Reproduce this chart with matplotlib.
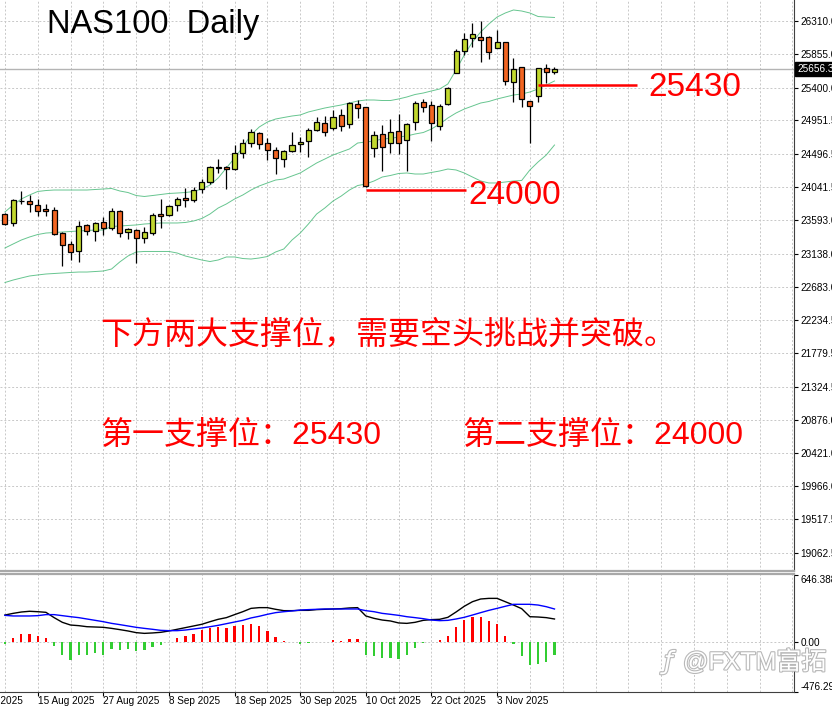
# NAS100 daily candles with bollinger bands and macd panel (MT4 style screenshot)
import numpy as np
import matplotlib
matplotlib.use('Agg')
import matplotlib.pyplot as plt
import matplotlib.patheffects as pe
from matplotlib.transforms import blended_transform_factory

# --- data, one value per daily bar (11 Aug 2025 .. 12 Nov 2025) ---
opens = [23673, 23559, 23848, 23850, 23800, 23745, 23732, 23418, 23269, 23169,
         23528, 23446, 23572, 23483, 23718, 23428, 23459, 23346, 23423, 23673,
         23660, 23796, 23899, 23868, 24022, 24117, 24310, 24313, 24286, 24504,
         24648, 24776, 24640, 24549, 24430, 24535, 24635, 24667, 24821, 24913,
         24845, 25022, 24899, 25180, 25135, 24572, 24763, 24640, 24804, 24681,
         24934, 25199, 25162, 24876, 25171, 25602, 25893, 26079, 26088, 26088,
         25942, 26016, 25479, 25679, 25212, 25285, 25662, 25615]
highs = [23691, 23877, 23991, 23936, 23877, 23809, 23768, 23428, 23314, 23586,
         23537, 23572, 23640, 23759, 23732, 23483, 23469, 23504, 23695, 23877,
         23800, 23913, 24027, 24049, 24150, 24331, 24430, 24335, 24613, 24695,
         24831, 24790, 24708, 24594, 24549, 24794, 24722, 24853, 25003, 25012,
         25094, 25107, 25199, 25230, 25139, 24808, 24890, 24971, 25039, 24913,
         25220, 25244, 25216, 25171, 25411, 25921, 26138, 26283, 26306, 26102,
         26183, 26024, 25798, 25684, 25220, 25670, 25720, 25675]
lows = [23528, 23514, 23814, 23709, 23650, 23650, 23391, 22973, 23055, 23019,
        23391, 23314, 23391, 23459, 23360, 23333, 23006, 23278, 23391, 23483,
        23650, 23718, 23777, 23837, 23967, 24086, 24232, 24018, 24277, 24436,
        24594, 24559, 24413, 24222, 24322, 24526, 24526, 24450, 24808, 24744,
        24821, 24812, 24853, 24989, 24049, 24458, 24267, 24512, 24495, 24267,
        24821, 25071, 24676, 24821, 25162, 25594, 25843, 25948, 25752, 25784,
        25934, 25434, 25207, 25131, 24640, 25207, 25457, 25584]
closes = [23537, 23864, 23854, 23809, 23718, 23718, 23401, 23259, 23160, 23514,
          23446, 23559, 23491, 23718, 23414, 23469, 23346, 23428, 23664, 23650,
          23786, 23877, 23864, 24004, 24117, 24322, 24316, 24286, 24504, 24640,
          24790, 24627, 24549, 24436, 24535, 24617, 24654, 24821, 24926, 24798,
          25003, 24880, 25185, 25117, 24059, 24753, 24594, 24790, 24648, 24899,
          25193, 25139, 24913, 25148, 25398, 25901, 26065, 26125, 26047, 25888,
          26020, 25493, 25652, 25240, 25152, 25662, 25607, 25656]

bb_upper = [23705, 23800, 23882, 23936, 23984, 23997, 24004, 24004, 24004, 24004,
            24004, 24011, 24018, 24025, 23991, 23970, 23929, 23916, 23929, 23943,
            23957, 23963, 23970, 23984, 24018, 24072, 24168, 24304, 24440, 24590,
            24753, 24862, 24930, 24971, 24992, 25012, 25026, 25067, 25094, 25121,
            25142, 25162, 25189, 25216, 25230, 25230, 25223, 25223, 25244, 25271,
            25305, 25325, 25353, 25380, 25448, 25639, 25843, 26020, 26156, 26265,
            26360, 26415, 26456, 26442, 26415, 26367, 26360, 26354]
bb_mid = [23214, 23269, 23323, 23364, 23398, 23418, 23425, 23432, 23439, 23446,
          23453, 23459, 23459, 23507, 23514, 23521, 23528, 23541, 23548, 23555,
          23555, 23555, 23562, 23582, 23616, 23677, 23759, 23814, 23882, 23936,
          24004, 24059, 24100, 24140, 24154, 24195, 24236, 24304, 24372, 24426,
          24481, 24522, 24563, 24644, 24658, 24672, 24699, 24706, 24726, 24740,
          24767, 24787, 24835, 24903, 24985, 25053, 25107, 25148, 25189, 25210,
          25244, 25271, 25298, 25312, 25339, 25380, 25434, 25489]
bb_lower = [22744, 22778, 22806, 22833, 22847, 22860, 22867, 22874, 22881, 22887,
            22887, 22894, 22901, 22928, 23024, 23105, 23160, 23167, 23167, 23167,
            23167, 23146, 23105, 23078, 23051, 23030, 23051, 23092, 23092, 23071,
            23064, 23078, 23098, 23160, 23201, 23323, 23418, 23541, 23677, 23759,
            23854, 23922, 24004, 24065, 24086, 24127, 24181, 24202, 24229, 24236,
            24222, 24222, 24243, 24263, 24290, 24277, 24236, 24181, 24127, 24100,
            24100, 24113, 24127, 24134, 24277, 24386, 24481, 24617]

macd_main = [262, 278, 291, 298, 294, 288, 237, 192, 166, 160,
             150, 147, 144, 134, 122, 109, 93, 86, 90, 96,
             109, 125, 141, 157, 173, 198, 221, 237, 266, 294,
             326, 333, 333, 317, 304, 304, 307, 307, 314, 317,
             320, 323, 330, 333, 253, 230, 214, 205, 186, 182,
             192, 211, 218, 221, 240, 291, 346, 390, 416, 422,
             422, 390, 358, 323, 246, 243, 237, 224]
macd_signal = [259, 253, 253, 253, 256, 266, 266, 256, 246, 237,
               224, 211, 198, 182, 170, 157, 144, 134, 125, 115,
               112, 112, 118, 128, 138, 150, 163, 179, 195, 211,
               234, 250, 269, 285, 294, 301, 310, 314, 317, 320,
               320, 320, 320, 320, 304, 294, 278, 269, 259, 246,
               237, 227, 214, 208, 211, 224, 240, 262, 285, 307,
               326, 346, 365, 365, 365, 358, 342, 320]
macd_hist = [-19, 45, 80, 83, 64, 45, -32, -120, -170, -125,
             -125, -100, -125, -67, -74, -61, -80, -77, -48, -26,
             6, 45, 64, 83, 118, 141, 150, 141, 157, 166,
             176, 157, 112, 54, 10, 3, -16, -6, 3, 3,
             19, 13, 32, 32, -122, -128, -154, -147, -160, -122,
             -58, -5, 3, 19, 61, 147, 214, 246, 240, 205,
             176, 64, -16, -128, -218, -208, -186, -122]

# date labels sit every 8 bars, bar 0 = 11 Aug 2025
date_pos = [-4, 4, 12, 20, 28, 36, 44, 52, 60]
date_labels = ['5 Aug 2025', '15 Aug 2025', '27 Aug 2025', '8 Sep 2025', '18 Sep 2025',
               '30 Sep 2025', '10 Oct 2025', '22 Oct 2025', '3 Nov 2025']

price_ticks = [26310.0, 25855.0, 25400.0, 24951.5, 24496.5, 24041.5, 23593.0, 23138.0,
               22683.0, 22234.5, 21779.5, 21324.5, 20876.0, 20421.0, 19966.0, 19517.5, 19062.5]
last_price = 25656.3
support1 = 25430
support2 = 24000

# --- figure layout in pixels ---
W, H = 832, 708
fig = plt.figure(figsize=(W / 100, H / 100), dpi=100)


def rect(x0, y0, x1, y1):
    return [x0 / W, 1 - y1 / H, (x1 - x0) / W, (y1 - y0) / H]


def fpos(px, py):
    return px / W, 1 - py / H


ax = fig.add_axes(rect(0, 0, 794, 571))
axm = fig.add_axes(rect(0, 574, 794, 692), sharex=ax)

x = np.arange(len(opens))
o = np.array(opens)
c = np.array(closes)
up = c >= o

grid_col = '#c8c8c8'
for a in (ax, axm):
    for gx in range(0, 97, 4):
        a.axvline(gx, color=grid_col, lw=0.7, ls=(0, (2, 2)), zorder=0)
for t in price_ticks:
    ax.axhline(t, color=grid_col, lw=0.7, ls=(0, (2, 2)), zorder=0)

# bollinger bands
bb_col = '#4cbb7c'
for band in (bb_upper, bb_mid, bb_lower):
    ax.plot(x, band, color=bb_col, lw=0.7, alpha=0.85, zorder=1)

# candles
ax.vlines(x, lows, highs, color='black', lw=0.9, zorder=2)
body_bottom = np.minimum(o, c)
body_h = np.abs(c - o)
colors = np.where(up, '#c2d82e', '#f26522')
ax.bar(x, body_h, bottom=body_bottom, width=0.62, color=colors,
       edgecolor='black', linewidth=0.9, zorder=3)

# current price line and label
ax.axhline(last_price, color='#b4b4b4', lw=1, zorder=1)
tr = blended_transform_factory(ax.transAxes, ax.transData)
ax.text(1.004, last_price, f'{last_price:.1f}', transform=tr, color='white',
        fontsize=7.2, family='Liberation Sans', va='center', ha='left', clip_on=False,
        bbox=dict(facecolor='black', edgecolor='black', pad=1.3), zorder=10)

# support lines
ax.hlines(support1, 65, 77.1, color='#ff0000', lw=1.8, zorder=4)
ax.hlines(support2, 44, 56.2, color='#ff0000', lw=1.8, zorder=4)

ax.set_xlim(-0.6, 96.2)
ax.set_ylim(18815, 26592)
ax.yaxis.tick_right()
ax.set_yticks(price_ticks)
ax.set_yticklabels([f'{t:.1f}' for t in price_ticks])
ax.tick_params(axis='y', length=3, width=0.8, pad=1.5, labelsize=7.2)
ax.tick_params(axis='x', length=0, labelbottom=False)
for lab in ax.get_yticklabels():
    lab.set_family('Liberation Sans')
ax.spines['top'].set_visible(False)
ax.spines['left'].set_visible(False)
ax.spines['right'].set_color('#404040')
ax.spines['bottom'].set_color('#a8a8a8')
ax.spines['bottom'].set_linewidth(1.6)

# macd panel
hcol = ['#ff0000' if h > 0 else '#32cd32' for h in macd_hist]
axm.bar(x, macd_hist, width=0.28, color=hcol, zorder=2)
axm.plot(x, macd_main, color='black', lw=1, zorder=3)
axm.plot(x, macd_signal, color='#0000ff', lw=1, zorder=3)
axm.axhline(0, color=grid_col, lw=0.7, ls=(0, (2, 2)), zorder=0)
axm.set_ylim(-477, 656)
axm.yaxis.tick_right()
axm.set_yticks([646.388, 0, -476.296])
axm.set_yticklabels(['646.388', '0.00', '-476.296'])
axm.tick_params(axis='y', length=3, width=0.8, pad=1.5, labelsize=7.2)
ylabs = axm.get_yticklabels()
ylabs[0].set_va('top')
ylabs[2].set_va('bottom')
for lab in ylabs:
    lab.set_family('Liberation Sans')
axm.set_xticks([p for p in date_pos if p >= 0])
axm.set_xticklabels([])
axm.tick_params(axis='x', length=3, width=0.8, direction='out')
trm = blended_transform_factory(axm.transData, axm.transAxes)
for p, lab in zip(date_pos, date_labels):
    axm.text(p, -0.035, lab, transform=trm, ha='left', va='top', fontsize=7.2,
             family='Liberation Sans', clip_on=False)
axm.spines['left'].set_visible(False)
axm.spines['top'].set_color('#a8a8a8')
axm.spines['top'].set_linewidth(1.6)
axm.spines['right'].set_color('#404040')
axm.spines['bottom'].set_color('#404040')

# texts
fig.text(*fpos(47, 25), 'NAS100  Daily', fontsize=23.5, family='Liberation Sans',
         color='black', va='center', ha='left')
fig.text(*fpos(648, 87), '25430', fontsize=24, family='Liberation Sans',
         color='#ff0000', va='center', ha='left')
fig.text(*fpos(468, 195), '24000', fontsize=24, family='Liberation Sans',
         color='#ff0000', va='center', ha='left')

cjk = ['Liberation Sans', 'Noto Sans CJK SC']
fig.text(*fpos(100, 335), '下方两大支撑位，需要空头挑战并突破。', fontsize=23,
         family=cjk, color='#ff0000', va='center', ha='left')
fig.text(*fpos(100, 436), '第一支撑位：25430', fontsize=23,
         family=cjk, color='#ff0000', va='center', ha='left')
fig.text(*fpos(462, 436), '第二支撑位：24000', fontsize=23,
         family=cjk, color='#ff0000', va='center', ha='left')

# watermark
wm_fx = [pe.withStroke(linewidth=1.6, foreground='#b8b8b8')]
fig.text(*fpos(664, 662), 'ƒ', fontsize=18, family='DejaVu Sans', color='white',
         va='center', ha='left', path_effects=wm_fx, style='italic')
fig.text(*fpos(683, 662), '@FXTM富拓', fontsize=18, family=cjk, color='white',
         va='center', ha='left', path_effects=wm_fx)

fig.savefig('out.png', dpi=100)
